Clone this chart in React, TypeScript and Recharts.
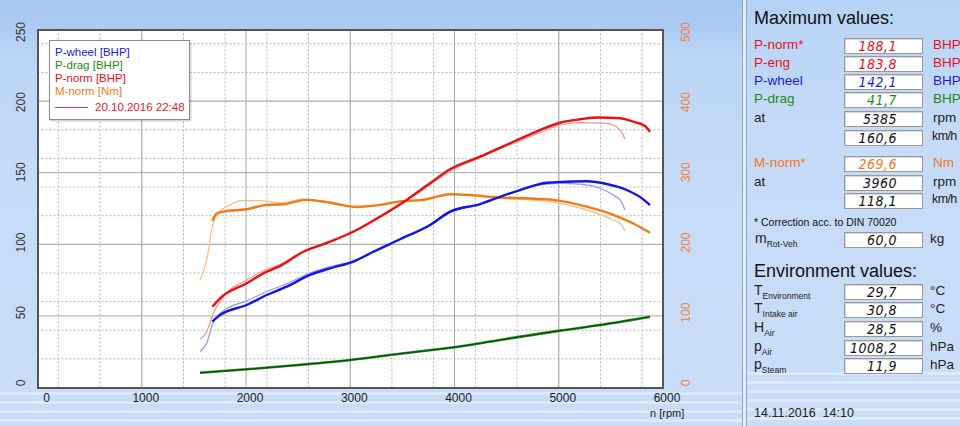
import { CartesianGrid, ComposedChart, Line, XAxis, YAxis } from 'recharts';

// plot frame (px inside the 742px wide chart)
const CHART_W = 742;
const CHART_H = 426;
const PLOT_L = 37.5;
const PLOT_R = 663;
const PLOT_T = 29.5;
const PLOT_B = 387.5;

const rpmTicks = [0, 1000, 2000, 3000, 4000, 5000, 6000];
const powerTicks = [0, 50, 100, 150, 200, 250];
const torqueTicks = [0, 100, 200, 300, 400, 500];
const rpmMinor = Array.from({ length: 29 }, (_, i) => (i + 1) * 200);
const powerMinor = Array.from({ length: 24 }, (_, i) => (i + 1) * 10);
const rpmMajor = [1000, 2000, 3000, 4000, 5000];
const powerMajor = [50, 100, 150, 200];

// current run (thick)
const pNormRpm = [1677, 1751, 2007, 2166, 2326, 2550, 2806, 3062, 3285, 3541, 3765, 3957, 4245, 4564, 4820, 5012, 5204, 5385, 5588, 5715, 5827, 5875];
const pNormBhp = [56.4, 62.3, 72.8, 79.7, 84.8, 94.8, 101.8, 110, 119.3, 131, 142.6, 152.4, 161.2, 171.6, 179.8, 184.9, 187.3, 188.6, 188, 185.6, 182.6, 178.6];

const pWheelRpm = [1677, 1751, 2007, 2199, 2390, 2614, 2806, 3030, 3222, 3477, 3765, 3957, 4245, 4436, 4628, 4884, 5076, 5268, 5460, 5652, 5811, 5875];
const pWheelBhp = [46, 50.6, 57.6, 64.6, 70.4, 78.6, 83.2, 87.9, 94.8, 103.5, 113.5, 122.8, 128.1, 133.2, 137.9, 143, 143.7, 144, 142.1, 137.9, 131.4, 127.4];

const mNormRpm = [1677, 1719, 1782, 2007, 2199, 2358, 2582, 2806, 3062, 3285, 3477, 3701, 3960, 4149, 4405, 4724, 4948, 5268, 5523, 5715, 5875];
const mNormNm = [233, 243, 245.6, 249, 255, 256, 262, 258, 252, 255, 260, 262, 270, 269, 265.6, 264, 262, 252.5, 241, 229, 216];

const pDragRpm = [1559, 2007, 2500, 3000, 3477, 3998, 4436, 5012, 5396, 5875];
const pDragBhp = [10.3, 12.7, 15.7, 19.2, 23.6, 28.1, 33.2, 39.7, 43.6, 49.4];

// comparison run 20.10.2016 22:48 (thin)
const oldNormRpm = [1559, 1623, 1687, 1782, 2007, 2166, 2326, 2550, 2806, 3062, 3285, 3541, 3765, 3957, 4245, 4564, 4820, 5012, 5204, 5460, 5588, 5636];
const oldNormBhp = [33.6, 39, 51.8, 63.4, 75, 81.5, 86, 95, 102, 110, 119, 130.5, 141.5, 151, 160.5, 170.5, 178, 183.3, 184.9, 184.5, 179.8, 173.3];

const oldWheelRpm = [1559, 1623, 1687, 1782, 2007, 2199, 2390, 2614, 2806, 3030, 3222, 3477, 3765, 3957, 4245, 4436, 4628, 4884, 5012, 5204, 5396, 5523, 5588, 5636];
const oldWheelBhp = [25, 31, 46, 53.5, 60.5, 67, 72.5, 80, 84.4, 88.5, 95, 103.5, 113, 122, 128, 133, 138, 142, 142.6, 142, 139.1, 134.4, 131, 124];

const oldTorqueRpm = [1559, 1623, 1671, 1719, 1847, 1958, 2134, 2326, 2550, 2806, 3062, 3285, 3477, 3701, 3957, 4149, 4405, 4724, 4948, 5268, 5523, 5588, 5636];
const oldTorqueNm = [150, 178, 220, 241, 255, 261, 261, 258, 263, 259, 253, 255, 260, 263, 270, 268, 264, 262, 259, 248, 234, 229, 219];

const zip = (xs: number[], ys: number[]) => xs.map((rpm, i) => ({ rpm, v: ys[i] }));

// right panel
const maxRows = [
  { label: 'P-norm*', value: '188,1', unit: 'BHP', color: '#e8101a' },
  { label: 'P-eng', value: '183,8', unit: 'BHP', color: '#e8101a' },
  { label: 'P-wheel', value: '142,1', unit: 'BHP', color: '#1c1ce0' },
  { label: 'P-drag', value: '41,7', unit: 'BHP', color: '#1a8a1a' },
  { label: 'at', value: '5385', unit: 'rpm', color: '#111' },
  { label: '', value: '160,6', unit: 'km/h', color: '#111' },
];
const maxRowsY = [45.5, 63.7, 81.8, 100.2, 119.2, 137.5];

const torqueRows = [
  { label: 'M-norm*', value: '269,6', unit: 'Nm', color: '#f07820' },
  { label: 'at', value: '3960', unit: 'rpm', color: '#111' },
  { label: '', value: '118,1', unit: 'km/h', color: '#111' },
];
const torqueRowsY = [164.2, 182.5, 200.5];

const envRows = [
  { sym: 'T', sub: 'Environment', value: '29,7', unit: '°C' },
  { sym: 'T', sub: 'Intake air', value: '30,8', unit: '°C' },
  { sym: 'H', sub: 'Air', value: '28,5', unit: '%' },
  { sym: 'p', sub: 'Air', value: '1008,2', unit: 'hPa' },
  { sym: 'p', sub: 'Steam', value: '11,9', unit: 'hPa' },
];
const envRowsY = [292, 310.3, 328.8, 347.5, 365.8];

const FONT = '"Liberation Sans", Arial, sans-serif';

function LeftTick(props: any) {
  const { y, payload } = props;
  const ly = 32 + (y - PLOT_T) * 0.98;
  return (
    <text x={21} y={ly} transform={`rotate(-90 21 ${ly})`} textAnchor="middle" dominantBaseline="central" fontSize={12} fill="#333" fontFamily={FONT}>
      {payload.value}
    </text>
  );
}

function RightTick(props: any) {
  const { y, payload } = props;
  const ly = 32 + (y - PLOT_T) * 0.98;
  return (
    <text x={686} y={ly} transform={`rotate(-90 686 ${ly})`} textAnchor="middle" dominantBaseline="central" fontSize={12} fill="#f0803a" fontFamily={FONT}>
      {payload.value}
    </text>
  );
}

function BottomTick(props: any) {
  const { x, payload } = props;
  const lx = payload.value === 0 ? x + 9 : x + 4;
  return (
    <text x={lx} y={398} textAnchor="middle" dominantBaseline="central" fontSize={12} fill="#222" fontFamily={FONT}>
      {payload.value}
    </text>
  );
}

function Lcd({ top, value, color }: { top: number; value: string; color: string }) {
  return (
    <div
      style={{
        position: 'absolute',
        left: 844,
        top: top - 8,
        width: 79,
        height: 16,
        boxSizing: 'border-box',
        background: '#fff',
        border: '1px solid #9a9a9a',
        boxShadow: 'inset 1px 1px 0 #d8d8d8',
        color,
        fontFamily: '"DejaVu Sans Condensed", "DejaVu Sans", sans-serif',
        fontStyle: 'italic',
        fontSize: 14,
        lineHeight: '14px',
        textAlign: 'right',
        paddingRight: 25,
        letterSpacing: 0.5,
      }}
    >
      {value}
    </div>
  );
}

function Unit({ top, text, color }: { top: number; text: string; color: string }) {
  const tight = text === 'km/h';
  return (
    <div
      style={{
        position: 'absolute',
        left: tight ? 932 : 933,
        top,
        fontSize: tight ? 12.5 : 13.5,
        letterSpacing: tight ? -0.6 : 0,
        whiteSpace: 'nowrap',
        color,
      }}
    >
      {text}
    </div>
  );
}

export default function App() {
  return (
    <div
      style={{
        position: 'absolute',
        left: 0,
        top: 0,
        width: 960,
        height: 426,
        overflow: 'hidden',
        fontFamily: FONT,
        background: 'linear-gradient(to bottom, #a8c8f1 0px, #abcaf2 24px, #bdd6f6 60px, #c6dbf7 200px, #c9ddf8 100%)',
      }}
    >
      <div
        style={{
          position: 'absolute',
          left: 0,
          top: 392,
          width: 960,
          height: 34,
          background: 'repeating-linear-gradient(to bottom, rgba(255,255,255,0.35) 0px, rgba(255,255,255,0.35) 3px, transparent 3px, transparent 9px)',
        }}
      />
      <div style={{ position: 'absolute', left: 0, top: 0 }}>
        <ComposedChart
          width={CHART_W}
          height={CHART_H}
          margin={{ top: PLOT_T, right: CHART_W - PLOT_R - 40, bottom: CHART_H - PLOT_B - 30, left: PLOT_L - 30 }}
        >
          <CartesianGrid
            xAxisId="rpm"
            yAxisId="p"
            fill="#ffffff"
            stroke="#b4b4b4"
            strokeDasharray="2 2"
            horizontalValues={powerMinor}
            verticalValues={rpmMinor}
          />
          <CartesianGrid
            xAxisId="rpm"
            yAxisId="p"
            stroke="#a8a8a8"
            horizontalValues={powerMajor}
            verticalValues={rpmMajor}
          />
          <XAxis
            xAxisId="rpm"
            type="number"
            dataKey="rpm"
            domain={[0, 6000]}
            ticks={rpmTicks}
            axisLine={false}
            tickLine={false}
            tick={<BottomTick />}
            height={30}
            allowDataOverflow
          />
          <YAxis
            yAxisId="p"
            type="number"
            domain={[0, 250]}
            ticks={powerTicks}
            axisLine={false}
            tickLine={false}
            tick={<LeftTick />}
            width={30}
          />
          <YAxis
            yAxisId="m"
            orientation="right"
            type="number"
            domain={[0, 500]}
            ticks={torqueTicks}
            axisLine={false}
            tickLine={false}
            tick={<RightTick />}
            width={40}
          />

          <Line xAxisId="rpm" yAxisId="p" data={zip(oldNormRpm, oldNormBhp)} dataKey="v" type="monotone" stroke="#f09494" strokeWidth={1.2} dot={false} isAnimationActive={false} />
          <Line xAxisId="rpm" yAxisId="p" data={zip(oldWheelRpm, oldWheelBhp)} dataKey="v" type="monotone" stroke="#9494f0" strokeWidth={1.2} dot={false} isAnimationActive={false} />
          <Line xAxisId="rpm" yAxisId="m" data={zip(oldTorqueRpm, oldTorqueNm)} dataKey="v" type="monotone" stroke="#f7bb86" strokeWidth={1.2} dot={false} isAnimationActive={false} />

          <Line xAxisId="rpm" yAxisId="p" data={zip(pDragRpm, pDragBhp)} dataKey="v" type="monotone" stroke="#1c8a1c" strokeWidth={2.6} dot={false} isAnimationActive={false} />
          <Line xAxisId="rpm" yAxisId="p" data={zip(pDragRpm, pDragBhp)} dataKey="v" type="monotone" stroke="#0a3a0a" strokeWidth={0.9} dot={false} isAnimationActive={false} />
          <Line xAxisId="rpm" yAxisId="m" data={zip(mNormRpm, mNormNm)} dataKey="v" type="monotone" stroke="#f47a14" strokeWidth={2.4} dot={false} isAnimationActive={false} />
          <Line xAxisId="rpm" yAxisId="p" data={zip(pWheelRpm, pWheelBhp)} dataKey="v" type="monotone" stroke="#1414e6" strokeWidth={2.4} dot={false} isAnimationActive={false} />
          <Line xAxisId="rpm" yAxisId="p" data={zip(pNormRpm, pNormBhp)} dataKey="v" type="monotone" stroke="#ea1010" strokeWidth={2.4} dot={false} isAnimationActive={false} />
        </ComposedChart>
      </div>

      {/* plot frame */}
      <div
        style={{
          position: 'absolute',
          left: PLOT_L - 1,
          top: PLOT_T - 1,
          width: PLOT_R - PLOT_L + 2,
          height: PLOT_B - PLOT_T + 2,
          boxSizing: 'border-box',
          border: '2px solid #555',
          pointerEvents: 'none',
        }}
      />

      {/* legend */}
      <div
        style={{
          position: 'absolute',
          left: 49,
          top: 40,
          width: 141,
          height: 80,
          boxSizing: 'border-box',
          background: '#fff',
          border: '1px solid #8c8c8c',
          boxShadow: '1px 1px 2px rgba(0,0,0,0.25)',
          fontSize: 11.5,
          lineHeight: '13px',
          paddingLeft: 5,
          paddingTop: 5,
        }}
      >
        <div style={{ color: '#2020e0' }}>P-wheel [BHP]</div>
        <div style={{ color: '#1a8a1a' }}>P-drag [BHP]</div>
        <div style={{ color: '#e81020' }}>P-norm [BHP]</div>
        <div style={{ color: '#f07820' }}>M-norm [Nm]</div>
        <div style={{ color: '#e0202a', marginTop: 3, display: 'flex', alignItems: 'center' }}>
          <span style={{ display: 'inline-block', width: 33, height: 1, background: '#e84040', marginRight: 7 }} />
          20.10.2016 22:48
        </div>
      </div>

      <div style={{ position: 'absolute', left: 650, top: 407, fontSize: 11, color: '#222' }}>n [rpm]</div>

      {/* separator */}
      <div style={{ position: 'absolute', left: 742, top: 0, width: 1, height: 426, background: '#8ea6c6' }} />
      <div style={{ position: 'absolute', left: 743, top: 0, width: 3, height: 426, background: '#e4eefb' }} />
      <div style={{ position: 'absolute', left: 746, top: 0, width: 1, height: 426, background: '#8ea6c6' }} />

      {/* right panel */}
      <div
        style={{
          position: 'absolute',
          left: 747,
          top: 0,
          width: 213,
          height: 426,
          overflow: 'hidden',
          background: 'linear-gradient(to bottom, #b4d1f5 0px, #bad5f6 30px, #c4daf7 120px, #cadef8 100%)',
        }}
      >
        <div
          style={{
            position: 'absolute',
            left: 0,
            top: 372,
            width: 213,
            height: 54,
            background: 'repeating-linear-gradient(to bottom, rgba(255,255,255,0.35) 0px, rgba(255,255,255,0.35) 3px, transparent 3px, transparent 9px)',
          }}
        />
      </div>

      <div style={{ position: 'absolute', left: 754, top: 8, fontSize: 18, color: '#111' }}>Maximum values:</div>

      {maxRows.map((r, i) => (
        <div key={'m' + i}>
          <div style={{ position: 'absolute', left: 754, top: maxRowsY[i] - 9, fontSize: 13.5, color: r.color === '#111' ? '#222' : r.color }}>{r.label}</div>
          <Lcd top={maxRowsY[i]} value={r.value} color={r.color} />
          <Unit top={maxRowsY[i] - 9} text={r.unit} color={r.color === '#111' ? '#222' : r.color} />
        </div>
      ))}

      {torqueRows.map((r, i) => (
        <div key={'t' + i}>
          <div style={{ position: 'absolute', left: 754, top: torqueRowsY[i] - 9, fontSize: 13.5, color: r.color === '#111' ? '#222' : r.color }}>{r.label}</div>
          <Lcd top={torqueRowsY[i]} value={r.value} color={r.color} />
          <Unit top={torqueRowsY[i] - 9} text={r.unit} color={r.color === '#111' ? '#222' : r.color} />
        </div>
      ))}

      <div style={{ position: 'absolute', left: 754, top: 216, fontSize: 10.5, color: '#111' }}>* Correction acc. to DIN 70020</div>

      <div style={{ position: 'absolute', left: 755, top: 230, fontSize: 14, color: '#222' }}>
        m<sub style={{ fontSize: 8.5, verticalAlign: -4 }}>Rot-Veh</sub>
      </div>
      <Lcd top={239.7} value="60,0" color="#111" />
      <div style={{ position: 'absolute', left: 930, top: 231, fontSize: 13.5, color: '#222' }}>kg</div>

      <div style={{ position: 'absolute', left: 754, top: 261, fontSize: 18, color: '#111' }}>Environment values:</div>

      {envRows.map((r, i) => (
        <div key={'e' + i}>
          <div style={{ position: 'absolute', left: 754, top: envRowsY[i] - 10, fontSize: 14, color: '#222', whiteSpace: 'nowrap' }}>
            {r.sym}
            <sub style={{ fontSize: 8.5, verticalAlign: -4 }}>{r.sub}</sub>
          </div>
          <Lcd top={envRowsY[i]} value={r.value} color="#111" />
          <div style={{ position: 'absolute', left: 930, top: envRowsY[i] - 9, fontSize: 13.5, color: '#222' }}>{r.unit}</div>
        </div>
      ))}

      <div style={{ position: 'absolute', left: 754, top: 406, fontSize: 12.5, color: '#222', whiteSpace: 'pre' }}>14.11.2016  14:10</div>
    </div>
  );
}
